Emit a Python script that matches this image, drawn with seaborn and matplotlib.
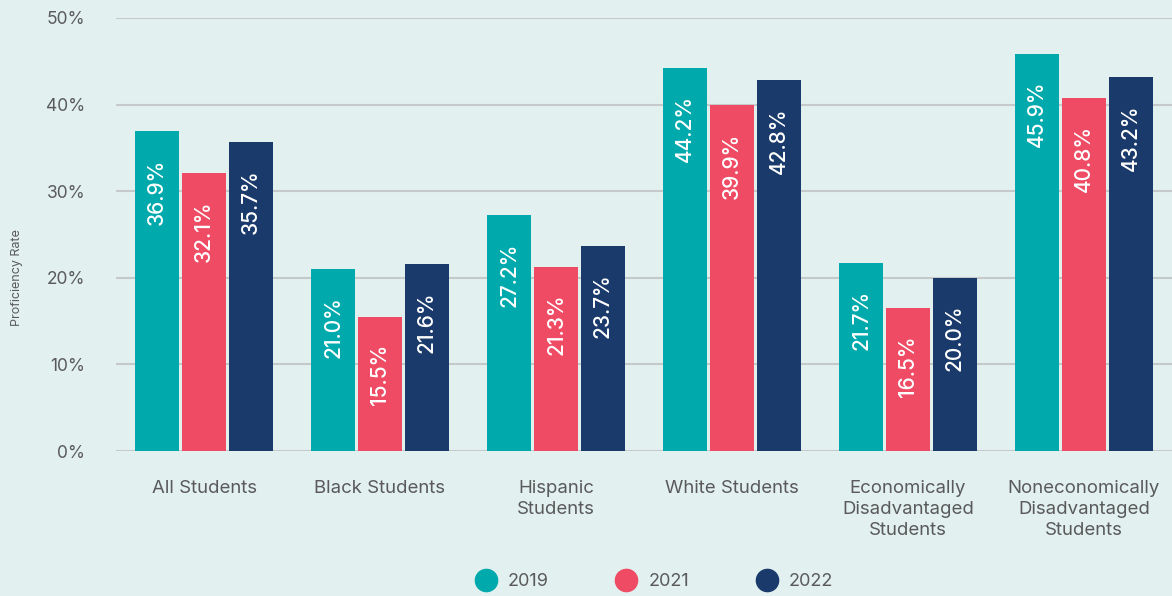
import pandas as pd
import matplotlib
matplotlib.use('Agg')
import matplotlib.pyplot as plt
import seaborn as sns
from matplotlib.lines import Line2D

# datos
groups = ['All Students', 'Black Students', 'Hispanic\nStudents', 'White Students',
          'Economically\nDisadvantaged\nStudents', 'Noneconomically\nDisadvantaged\nStudents']
years = ['2019', '2021', '2022']
rate_2019 = [36.9, 21.0, 27.2, 44.2, 21.7, 45.9]
rate_2021 = [32.1, 15.5, 21.3, 39.9, 16.5, 40.8]
rate_2022 = [35.7, 21.6, 23.7, 42.8, 20.0, 43.2]
y_ticks = [0, 10, 20, 30, 40, 50]

colors = ['#00a9ac', '#ef4b64', '#1a3a6b']
bg = '#e2f0f0'
txt = '#5a5a5a'

df = pd.DataFrame({
    'group': groups * 3,
    'year': [y for y in years for _ in groups],
    'rate': rate_2019 + rate_2021 + rate_2022,
})

sns.set_style('white')
plt.rcParams['font.family'] = ['Inter', 'DejaVu Sans']

fig = plt.figure(figsize=(11.72, 5.96), dpi=100, facecolor=bg)
ax = fig.add_axes([116 / 1172, 145 / 596, 1 - 116 / 1172, (451 - 18) / 596])
ax.set_facecolor(bg)

sns.barplot(data=df, x='group', y='rate', hue='year', palette=colors,
            width=0.8, gap=0.08, saturation=1, legend=False, ax=ax, zorder=3,
            edgecolor='none', linewidth=0)

ax.set_xlim(-0.5, 5.5)
ax.set_ylim(0, 50)
ax.set_yticks(y_ticks)
ax.set_yticklabels([f'{t}%' for t in y_ticks], fontsize=12.5, color=txt)
ax.grid(axis='y', color='#c6c9c9', lw=1.5, zorder=0)
ax.tick_params(axis='y', length=0, pad=22)
ax.tick_params(axis='x', length=0, pad=21)
for lbl in ax.get_xticklabels():
    lbl.set_fontsize(13.4)
    lbl.set_color(txt)
    lbl.set_linespacing(1.3)
    lbl.set_verticalalignment('top')
sns.despine(ax=ax, left=True, bottom=True)
ax.set_xlabel('')
ax.set_ylabel('Proficiency Rate', fontsize=9, color=txt)
ax.yaxis.set_label_coords(-0.088, 0.4)

# etiquetas dentro de las barras
for bar in ax.patches:
    h = bar.get_height()
    if h <= 0:
        continue
    ax.annotate(f'{h:.1f}%', (bar.get_x() + bar.get_width() / 2, h),
                xytext=(0, -27), textcoords='offset pixels',
                rotation=90, ha='center', va='top', color='white',
                fontsize=15, fontweight='medium', zorder=4)

handles = [Line2D([0], [0], marker='o', ls='', markersize=16, markerfacecolor=c,
                  markeredgecolor=c) for c in colors]
fig.legend(handles, years, loc='center', bbox_to_anchor=(0.558, 0.024), ncol=3,
           frameon=False, fontsize=13, labelcolor=txt, columnspacing=3.7,
           handletextpad=0.6, handlelength=1.2)

fig.savefig('out.png', dpi=100, facecolor=bg)
